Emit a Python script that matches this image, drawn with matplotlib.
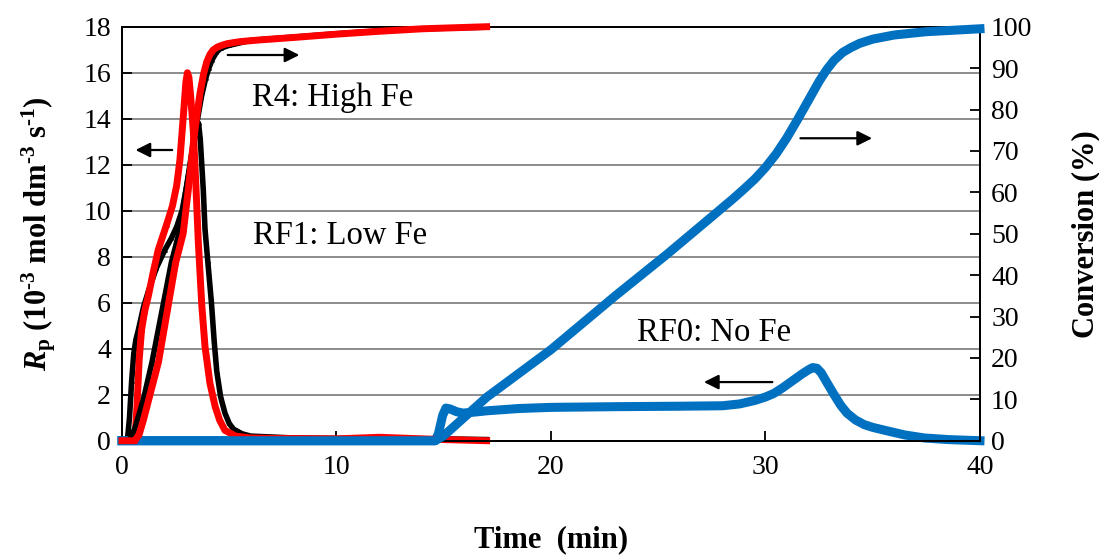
import numpy as np
import matplotlib.pyplot as plt

plt.rcParams['font.family'] = ['Liberation Serif', 'DejaVu Serif']
plt.rcParams['mathtext.fontset'] = 'custom'
plt.rcParams['mathtext.rm'] = 'Liberation Serif:bold'
plt.rcParams['mathtext.it'] = 'Liberation Serif:italic:bold'
plt.rcParams['mathtext.bf'] = 'Liberation Serif:bold'

# R4: High Fe (red)
t_r4_rp = [0, 0.6, 0.7, 0.8, 0.91, 1.05, 1.23, 1.45, 1.69, 2.08, 2.35, 2.55, 2.7, 2.8,
           2.9, 2.98, 3.05, 3.12, 3.2, 3.33, 3.45, 3.56, 3.72, 3.87, 4.1, 4.34, 4.55,
           4.8, 5.3, 6, 7, 10, 12, 14, 15, 17]
rp_r4 = [0, 0, 1.5, 3.5, 4.8, 5.6, 6.3, 7.3, 8.3, 9.4, 10.2, 11.1, 12.2, 13.4,
         14.6, 15.6, 16.0, 15.8, 15.0, 13.4, 11.0, 8.6, 5.9, 4.1, 2.5, 1.5, 0.9,
         0.45, 0.2, 0.12, 0.1, 0.08, 0.15, 0.08, 0.05, 0.0]
t_r4_conv = [0, 0.6, 0.8, 1.0, 1.3, 1.7, 2.1, 2.5, 2.85, 3.1, 3.33, 3.5, 3.64, 3.8,
             3.95, 4.1, 4.25, 4.45, 4.65, 4.9, 5.5, 6.4, 8, 10, 12, 14, 17]
conv_r4 = [0, 0, 1.5, 5, 11, 19, 31, 43, 50, 61, 72, 79, 84, 88.5,
           91.5, 93.3, 94.4, 95.1, 95.5, 95.9, 96.4, 96.8, 97.4, 98.2, 98.9, 99.5, 100]

# RF1: Low Fe (black)
t_rf1_rp = [0, 0.25, 0.35, 0.45, 0.55, 0.65, 0.76, 1.0, 1.23, 1.6, 2.0, 2.3, 2.55,
            2.8, 3.0, 3.2, 3.35, 3.48, 3.57, 3.65, 3.79, 3.87, 4.0, 4.17, 4.3, 4.42,
            4.6, 4.8, 5.0, 5.2, 5.6, 6, 8, 10, 12, 15, 17]
rp_rf1 = [0, 0, 1.0, 2.6, 3.8, 4.4, 4.8, 5.8, 6.5, 7.5, 8.3, 8.8, 9.3,
          10.0, 11.0, 12.2, 13.1, 13.7, 13.8, 13.1, 10.9, 9.2, 7.8, 6.0, 4.3, 3.0,
          1.9, 1.2, 0.75, 0.5, 0.3, 0.2, 0.12, 0.1, 0.1, 0.08, 0.05]
t_rf1_conv = [0, 0.35, 0.6, 1.0, 1.4, 1.85, 2.3, 2.7, 3.0, 3.3, 3.5, 3.7, 3.9, 4.05,
              4.2, 4.4, 4.6, 5, 6, 8, 10, 12, 14, 17]
conv_rf1 = [0, 0, 3, 10, 19, 31, 43, 51, 61, 70, 77, 83, 87.5, 90,
            92, 93.8, 94.8, 95.5, 96.7, 97.5, 98.3, 99.0, 99.5, 99.9]

# RF0: No Fe (blue)
t_rf0_rp = [0, 14.6, 14.75, 14.95, 15.1, 15.3, 15.6, 15.9, 16.5, 17, 18.5, 20, 23, 26,
            28, 28.8, 29.5, 30.0, 30.4, 30.8, 31.1, 31.4, 31.7, 32.0, 32.2, 32.4,
            32.6, 32.85, 33.2, 33.5, 33.8, 34.2, 34.6, 35, 35.8, 36.5, 37.4, 38.5, 40]
rp_rf0 = [0, 0, 0.3, 1.1, 1.42, 1.38, 1.26, 1.2, 1.25, 1.3, 1.4, 1.45, 1.48, 1.5,
          1.52, 1.6, 1.75, 1.9, 2.06, 2.3, 2.5, 2.7, 2.9, 3.08, 3.18, 3.15,
          2.95, 2.55, 2.0, 1.55, 1.2, 0.9, 0.7, 0.58, 0.4, 0.25, 0.12, 0.05, 0.0]
t_rf0_conv = [0, 14.6, 15, 17, 20, 23, 25.4, 27.7, 28.5, 29, 29.5, 30, 30.5, 31.0,
              31.5, 32, 32.5, 32.85, 33.2, 33.6, 34.0, 34.4, 35, 36, 37.5, 40]
conv_rf0 = [0, 0, 1.2, 10.5, 22, 35, 45, 55, 58.5, 60.8, 63.2, 66, 69.3, 73.2,
            77.6, 82.2, 86.8, 89.6, 91.9, 93.8, 95.0, 96, 97, 98, 98.8, 99.5]

blue = '#0070C0'
red = '#FF0000'

fig, ax = plt.subplots(figsize=(10.99, 5.59), dpi=100)
fig.subplots_adjust(left=0.111, right=0.8917, bottom=0.2116, top=0.9522)
ax2 = ax.twinx()

ax.set_xlim(0, 40)
ax.set_ylim(0, 18)
ax2.set_ylim(0, 100)
ax.set_xticks([0, 10, 20, 30, 40])
ax.set_yticks(np.arange(0, 19, 2))
ax2.set_yticks(np.arange(0, 101, 10))
ax.yaxis.grid(True, color='#8c8c8c', lw=1.4)
ax.set_axisbelow(True)

# rate curves
ax.plot(t_rf0_rp, rp_rf0, color=blue, lw=6.5, clip_on=False, zorder=3,
        solid_joinstyle='round')
ax.plot(t_rf1_rp, rp_rf1, color='black', lw=4, marker='^', ms=2.5,
        clip_on=False, zorder=4)
ax.plot(t_r4_rp, rp_r4, color=red, lw=5, marker='^', ms=2.5,
        clip_on=False, zorder=5)

# conversion curves
ax2.plot(t_rf0_conv, conv_rf0, color=blue, lw=6.5, clip_on=False, zorder=3,
         solid_joinstyle='round')
ax2.plot(t_rf1_conv, conv_rf1, color='black', lw=4, marker='^', ms=2.5,
         clip_on=False, zorder=4)
ax2.plot(t_r4_conv, conv_r4, color=red, lw=5, marker='^', ms=2.5,
         clip_on=False, zorder=5)

# labels and arrows
ax.text(9.8, 14.9, 'R4: High Fe', fontsize=23.5, ha='center', va='center')
ax.text(6.1, 8.93, 'RF1: Low Fe', fontsize=23.5, ha='left', va='center')
ax.text(24.0, 4.68, 'RF0: No Fe', fontsize=23.5, ha='left', va='center')

arrow = dict(arrowstyle='-|>', color='black', lw=1.6, mutation_scale=22)
ax.annotate('', xy=(0.5, 12.64), xytext=(2.47, 12.64), arrowprops=arrow)
ax.annotate('', xy=(8.4, 16.77), xytext=(4.8, 16.77), arrowprops=arrow)
ax.annotate('', xy=(35.1, 13.15), xytext=(31.5, 13.15), arrowprops=arrow)
ax.annotate('', xy=(27.0, 2.55), xytext=(30.45, 2.55), arrowprops=arrow)

for a in (ax, ax2):
    for s in a.spines.values():
        s.set_linewidth(1.4)
    a.tick_params(direction='in', length=7, width=1.3, labelsize=20)
ax.tick_params(axis='x', pad=10)
ax.tick_params(axis='y', pad=8)
ax2.tick_params(axis='y', pad=8)

ax.set_xlabel('Time  (min)', fontsize=22, fontweight='bold', labelpad=33)
ax.set_ylabel(r'$\mathit{R}_\mathrm{p}$ (10$^{\text{-}3}$ mol dm$^{\text{-}3}$ s$^{\text{-}1}$)',
              fontsize=22, fontweight='bold', labelpad=18)
ax2.set_ylabel('Conversion (%)', fontsize=22, fontweight='bold', labelpad=28)

plt.savefig('out.png', dpi=100)
